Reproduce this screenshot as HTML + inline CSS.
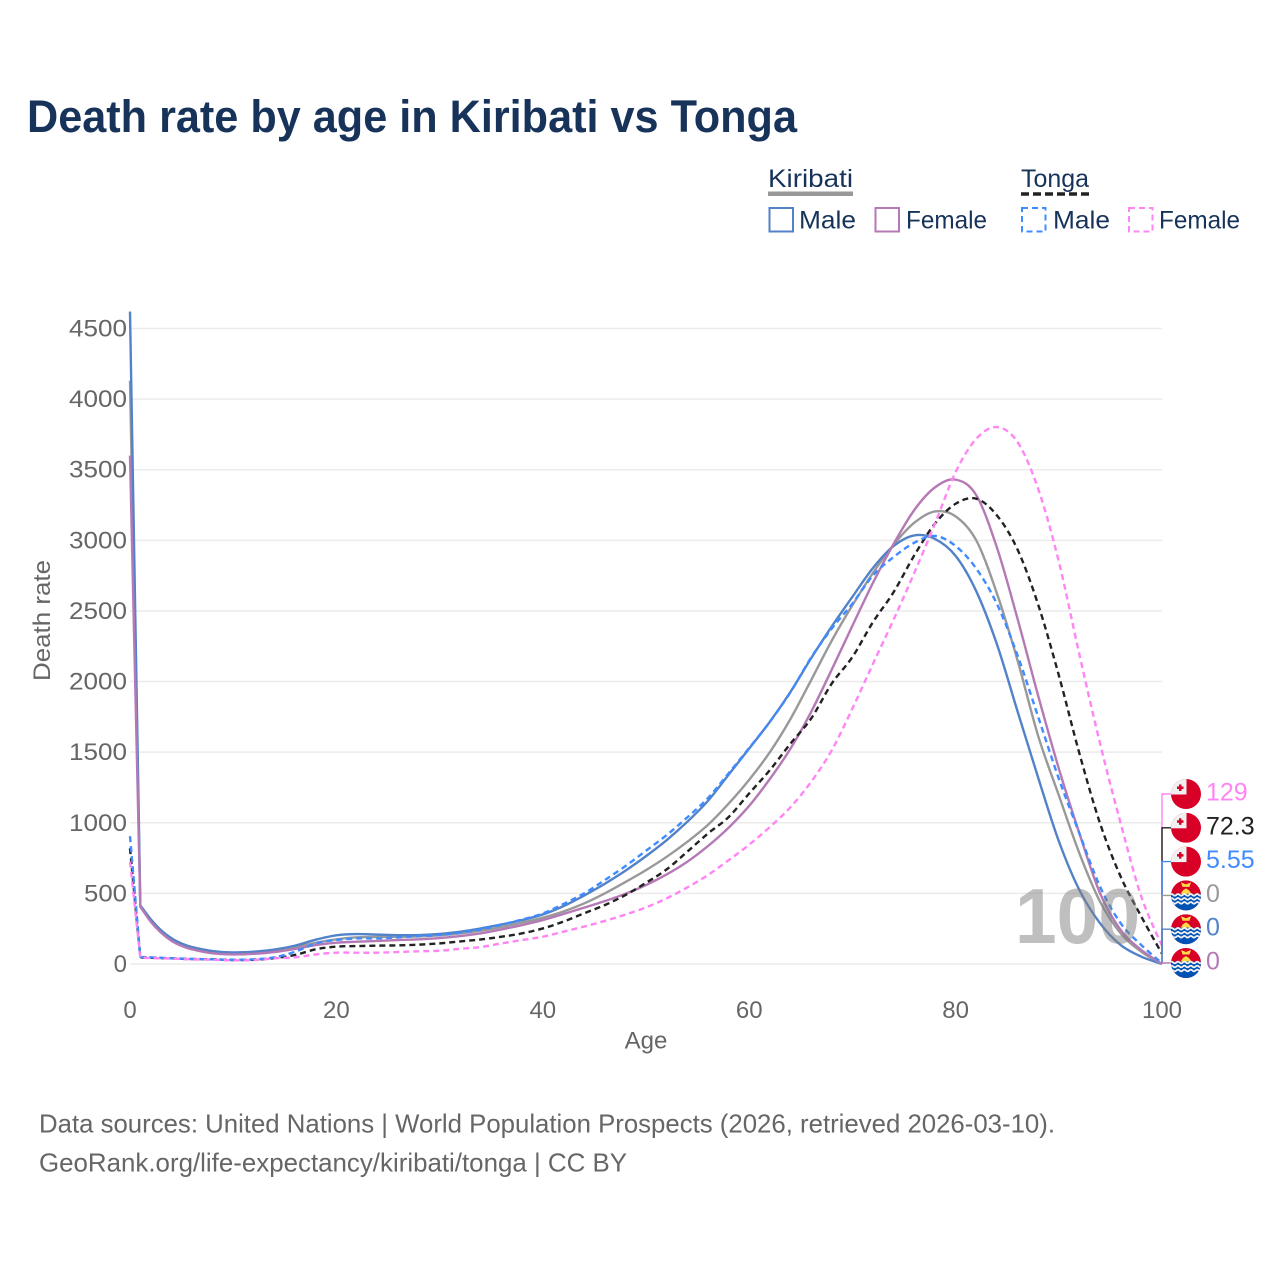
<!DOCTYPE html>
<html lang="en">
<head>
<meta charset="utf-8">
<title>Death rate by age in Kiribati vs Tonga</title>
<style>
  html, body { margin: 0; padding: 0; background: #fff; }
  svg { display: block; }
  text { font-family: "Liberation Sans", "DejaVu Sans", sans-serif; }
</style>
</head>
<body>
<svg id="chart" xmlns="http://www.w3.org/2000/svg" width="1280" height="1280" viewBox="0 0 1280 1280">
  <rect width="1280" height="1280" fill="#ffffff"/>
  <text x="27" y="132" font-size="45" font-weight="700" fill="#17335a" textLength="770" lengthAdjust="spacingAndGlyphs">Death rate by age in Kiribati vs Tonga</text>

  <g font-size="25" fill="#17335a">
    <text x="768" y="187" textLength="85" lengthAdjust="spacingAndGlyphs">Kiribati</text>
    <rect x="768" y="191.5" width="85" height="4.5" fill="#999999"/>
    <text x="1021" y="187" textLength="68" lengthAdjust="spacingAndGlyphs">Tonga</text>
    <line x1="1021" y1="194" x2="1089" y2="194" stroke="#222222" stroke-width="3.5" stroke-dasharray="8 4"/>

    <rect x="769.5" y="208" width="23.5" height="23.5" fill="none" stroke="#5282c8" stroke-width="2"/>
    <text x="799" y="228.5" textLength="57" lengthAdjust="spacingAndGlyphs">Male</text>
    <rect x="875.5" y="208" width="23.5" height="23.5" fill="none" stroke="#b57ab5" stroke-width="2"/>
    <text x="906" y="228.5" textLength="81" lengthAdjust="spacingAndGlyphs">Female</text>
    <rect x="1022" y="208" width="23.5" height="23.5" fill="none" stroke="#3f8bff" stroke-width="2" stroke-dasharray="6 4"/>
    <text x="1053" y="228.5" textLength="57" lengthAdjust="spacingAndGlyphs">Male</text>
    <rect x="1129" y="208" width="23.5" height="23.5" fill="none" stroke="#ff85f5" stroke-width="2" stroke-dasharray="6 4"/>
    <text x="1159" y="228.5" textLength="81" lengthAdjust="spacingAndGlyphs">Female</text>
  </g>

  <g id="grid"></g>
  <g id="yticks" font-size="24" fill="#666666" text-anchor="end"></g>
  <g id="xticks" font-size="24" fill="#666666" text-anchor="middle"></g>
  <text transform="translate(50 620.5) rotate(-90)" font-size="24" fill="#666666" text-anchor="middle" textLength="121" lengthAdjust="spacingAndGlyphs">Death rate</text>
  <text x="646" y="1048.5" font-size="24" fill="#666666" text-anchor="middle">Age</text>

  <g id="series"></g>
  <text x="1015" y="943" font-size="78" font-weight="700" fill="#808080" fill-opacity="0.5" textLength="125" lengthAdjust="spacingAndGlyphs">100</text>
  <g id="endlabels"></g>

  <g font-size="26" fill="#666666">
    <text x="39" y="1132.5" textLength="1016" lengthAdjust="spacingAndGlyphs">Data sources: United Nations | World Population Prospects (2026, retrieved 2026-03-10).</text>
    <text x="39" y="1171.5" textLength="588" lengthAdjust="spacingAndGlyphs">GeoRank.org/life-expectancy/kiribati/tonga | CC BY</text>
  </g>
</svg>

<script>
const ages = [0,1,2,3,4,5,6,8,10,12,14,16,18,20,22,24,26,28,30,32,34,36,38,40,42,44,46,48,50,52,54,56,58,60,62,64,66,68,70,72,74,76,78,80,82,84,86,88,90,92,94,96,98,100];
const xTickValues = [0,20,40,60,80,100];
const yTickValues = [0,500,1000,1500,2000,2500,3000,3500,4000,4500];

const kiribatiBoth = [4130,410,310,232,175,137,112,84,75,80,93,118,150,175,189,191,193,195,203,217,236,262,293,328,372,429,500,580,665,759,865,985,1135,1305,1500,1735,2010,2290,2540,2770,2970,3125,3205,3170,3000,2625,2151,1615,1195,783,441,217,87,0];
const kiribatiMale = [4620,415,318,240,183,145,120,92,82,87,102,130,172,203,212,208,204,205,213,229,252,280,311,351,410,485,568,660,764,877,1007,1155,1340,1526,1715,1927,2165,2390,2600,2805,2960,3035,3010,2890,2640,2265,1790,1320,870,523,288,134,52,0];
const kiribatiFemale = [3600,405,300,222,165,128,104,76,68,72,85,107,134,151,158,163,170,175,184,198,217,245,276,311,354,399,445,497,559,634,724,835,965,1120,1310,1525,1785,2085,2395,2700,2975,3215,3375,3430,3320,2950,2445,1900,1385,924,500,240,99,0];
const tongaBoth = [820,47,44,42,40,37,35,33,28,30,42,64,104,123,127,130,132,137,146,160,174,193,217,252,300,359,417,488,575,670,795,924,1040,1208,1373,1561,1738,1986,2174,2422,2634,2894,3118,3259,3295,3177,2935,2545,2045,1490,995,618,335,72.3];
const tongaMale = [905,50,47,44,41,38,36,33,30,33,47,87,146,170,181,181,189,198,205,222,245,278,315,358,425,500,594,693,802,913,1038,1175,1350,1530,1715,1925,2170,2375,2552,2752,2882,2983,3031,2960,2800,2550,2186,1750,1313,924,547,288,134,5.55];
const tongaFemale = [725,45,42,40,38,35,33,30,26,28,40,47,68,80,80,80,85,90,94,108,120,146,170,193,229,265,305,350,401,465,542,630,735,845,970,1110,1290,1514,1809,2127,2440,2770,3118,3483,3719,3802,3696,3365,2850,2190,1561,995,476,129];

const NS = 'http://www.w3.org/2000/svg';
const xScale = age => 130 + age * 10.32;
const yScale = v => 964 - v * 0.14122;
const make = (tag, parent) => { const e = document.createElementNS(NS, tag); parent.appendChild(e); return e; };
const fmt = v => String(v);

const gridG = document.getElementById('grid');
const yG = document.getElementById('yticks');
const xG = document.getElementById('xticks');

yTickValues.forEach(v => {
  const l = make('line', gridG);
  
  
  l.setAttribute('x1', 130); l.setAttribute('x2', 1162);
  l.setAttribute('y1', yScale(v)); l.setAttribute('y2', yScale(v));
  l.setAttribute('stroke', '#ebebeb'); l.setAttribute('stroke-width', 1.5);
  const t = make('text', yG);
  
  
  t.setAttribute('x', 127); t.setAttribute('y', yScale(v) + 8);
  t.textContent = fmt(v);
  if (v >= 1000) { t.setAttribute('textLength', 58); t.setAttribute('lengthAdjust', 'spacingAndGlyphs'); }
  else if (v >= 100) { t.setAttribute('textLength', 43); t.setAttribute('lengthAdjust', 'spacingAndGlyphs'); }
});

xTickValues.forEach(v => {
  const t = make('text', xG);
  
  
  t.setAttribute('x', xScale(v)); t.setAttribute('y', 1018);
  t.textContent = fmt(v);
});

const lineSpecs = [
  { key: 'kiribati-both', values: kiribatiBoth, color: '#999999', dash: '' },
  { key: 'kiribati-male', values: kiribatiMale, color: '#5282c8', dash: '' },
  { key: 'kiribati-female', values: kiribatiFemale, color: '#b57ab5', dash: '' },
  { key: 'tonga-both', values: tongaBoth, color: '#222222', dash: '6 4' },
  { key: 'tonga-male', values: tongaMale, color: '#3f8bff', dash: '6 4' },
  { key: 'tonga-female', values: tongaFemale, color: '#ff85f5', dash: '6 4' }
];

function smoothPath(values) {
  const pts = values.map((v, i) => [xScale(ages[i]), yScale(v)]);
  let d = 'M' + pts[0][0].toFixed(2) + ' ' + pts[0][1].toFixed(2) + ' L' + pts[1][0].toFixed(2) + ' ' + pts[1][1].toFixed(2);
  for (let i = 1; i < pts.length - 1; i++) {
    const a = pts[Math.max(i - 1, 1)];
    const b = pts[i];
    const c = pts[i + 1];
    const e = pts[Math.min(i + 2, pts.length - 1)];
    const c1x = b[0] + (c[0] - a[0]) / 6;
    const c1y = b[1] + (c[1] - a[1]) / 6;
    const c2x = c[0] - (e[0] - b[0]) / 6;
    const c2y = c[1] - (e[1] - b[1]) / 6;
    d += ' C' + c1x.toFixed(2) + ' ' + c1y.toFixed(2) + ' ' + c2x.toFixed(2) + ' ' + c2y.toFixed(2) + ' ' + c[0].toFixed(2) + ' ' + c[1].toFixed(2);
  }
  return d;
}

const seriesG = document.getElementById('series');
lineSpecs.forEach(s => {
  const p = make('path', seriesG);
  
  
  p.setAttribute('d', smoothPath(s.values));
  p.setAttribute('fill', 'none');
  p.setAttribute('stroke', s.color);
  p.setAttribute('stroke-width', 2.4);
  p.setAttribute('stroke-linejoin', 'round');
  if (s.dash) p.setAttribute('stroke-dasharray', s.dash);
});

const endSpecs = [
  { key: 'tonga-female', values: tongaFemale, color: '#ff85f5', flag: 'tonga', text: '129' },
  { key: 'tonga-both', values: tongaBoth, color: '#222222', flag: 'tonga', text: '72.3' },
  { key: 'tonga-male', values: tongaMale, color: '#3f8bff', flag: 'tonga', text: '5.55' },
  { key: 'kiribati-both', values: kiribatiBoth, color: '#999999', flag: 'kiribati', text: '0' },
  { key: 'kiribati-male', values: kiribatiMale, color: '#5282c8', flag: 'kiribati', text: '0' },
  { key: 'kiribati-female', values: kiribatiFemale, color: '#b57ab5', flag: 'kiribati', text: '0' }
];

const endG = document.getElementById('endlabels');
const defs = make('defs', endG);

function shape(tag, parent, attrs) {
  const e = make(tag, parent);
  Object.keys(attrs).forEach(k => e.setAttribute(k, attrs[k]));
  return e;
}

function drawFlag(kind, cx, cy, idx) {
  const clip = make('clipPath', defs);
  clip.setAttribute('id', 'flag-clip-' + idx);
  shape('circle', clip, { cx: cx, cy: cy, r: 15 });
  const g = make('g', endG);
  
  
  g.setAttribute('clip-path', 'url(#flag-clip-' + idx + ')');
  if (kind === 'tonga') {
    shape('rect', g, { x: cx - 15, y: cy - 15, width: 30, height: 30, fill: '#d80027' });
    shape('rect', g, { x: cx - 15, y: cy - 15, width: 15.5, height: 15.5, fill: '#f0f0f0' });
    shape('rect', g, { x: cx - 7, y: cy - 9.5, width: 2.5, height: 6.5, fill: '#d80027' });
    shape('rect', g, { x: cx - 9, y: cy - 7.5, width: 6.5, height: 2.5, fill: '#d80027' });
  } else {
    shape('rect', g, { x: cx - 15, y: cy - 15, width: 30, height: 30, fill: '#d80027' });
    shape('path', g, { d: 'M' + (cx - 5.5) + ' ' + (cy - 1.5) + ' L' + (cx - 3) + ' ' + (cy - 5) + ' L' + cx + ' ' + (cy - 7) + ' L' + (cx + 3) + ' ' + (cy - 5) + ' L' + (cx + 5.5) + ' ' + (cy - 1.5) + ' Z', fill: '#ffda44' });
    shape('path', g, { d: 'M' + (cx - 5) + ' ' + (cy - 13) + ' L' + cx + ' ' + (cy - 11) + ' L' + (cx + 5) + ' ' + (cy - 13) + ' L' + (cx + 3.5) + ' ' + (cy - 8.5) + ' L' + (cx - 3.5) + ' ' + (cy - 8.5) + ' Z', fill: '#ffda44' });
    shape('rect', g, { x: cx - 15, y: cy - 1.5, width: 30, height: 17, fill: '#0052b4' });
    [-0.5, 3.5, 7.5].forEach(dy => {
      let d = 'M' + (cx - 16) + ' ' + (cy + dy);
      for (let k = 0; k < 10; k++) {
        d += ' q1.6 ' + (k % 2 ? 1.6 : -1.6) + ' 3.2 0';
      }
      shape('path', g, { d: d, fill: 'none', stroke: '#f0f0f0', 'stroke-width': 1.8 });
    });
  }
}

endSpecs.forEach((s, i) => {
  const labelY = 794 + i * 33.8;
  const lastValue = s.values[s.values.length - 1];
  const conn = make('path', endG);
  
  
  conn.setAttribute('d', 'M' + xScale(100) + ' ' + yScale(lastValue).toFixed(2) + ' L' + xScale(100) + ' ' + labelY.toFixed(1) + ' L1172 ' + labelY.toFixed(1));
  conn.setAttribute('fill', 'none');
  conn.setAttribute('stroke', s.color);
  conn.setAttribute('stroke-width', 1.4);
});

endSpecs.forEach((s, i) => {
  const labelY = 794 + i * 33.8;
  drawFlag(s.flag, 1186, labelY, i);
  const t = make('text', endG);
  
  
  t.setAttribute('x', 1206);
  t.setAttribute('y', labelY + 6.5);
  t.setAttribute('font-size', 25);
  t.setAttribute('fill', s.color);
  t.textContent = s.text;
});
</script>
</body>
</html>
